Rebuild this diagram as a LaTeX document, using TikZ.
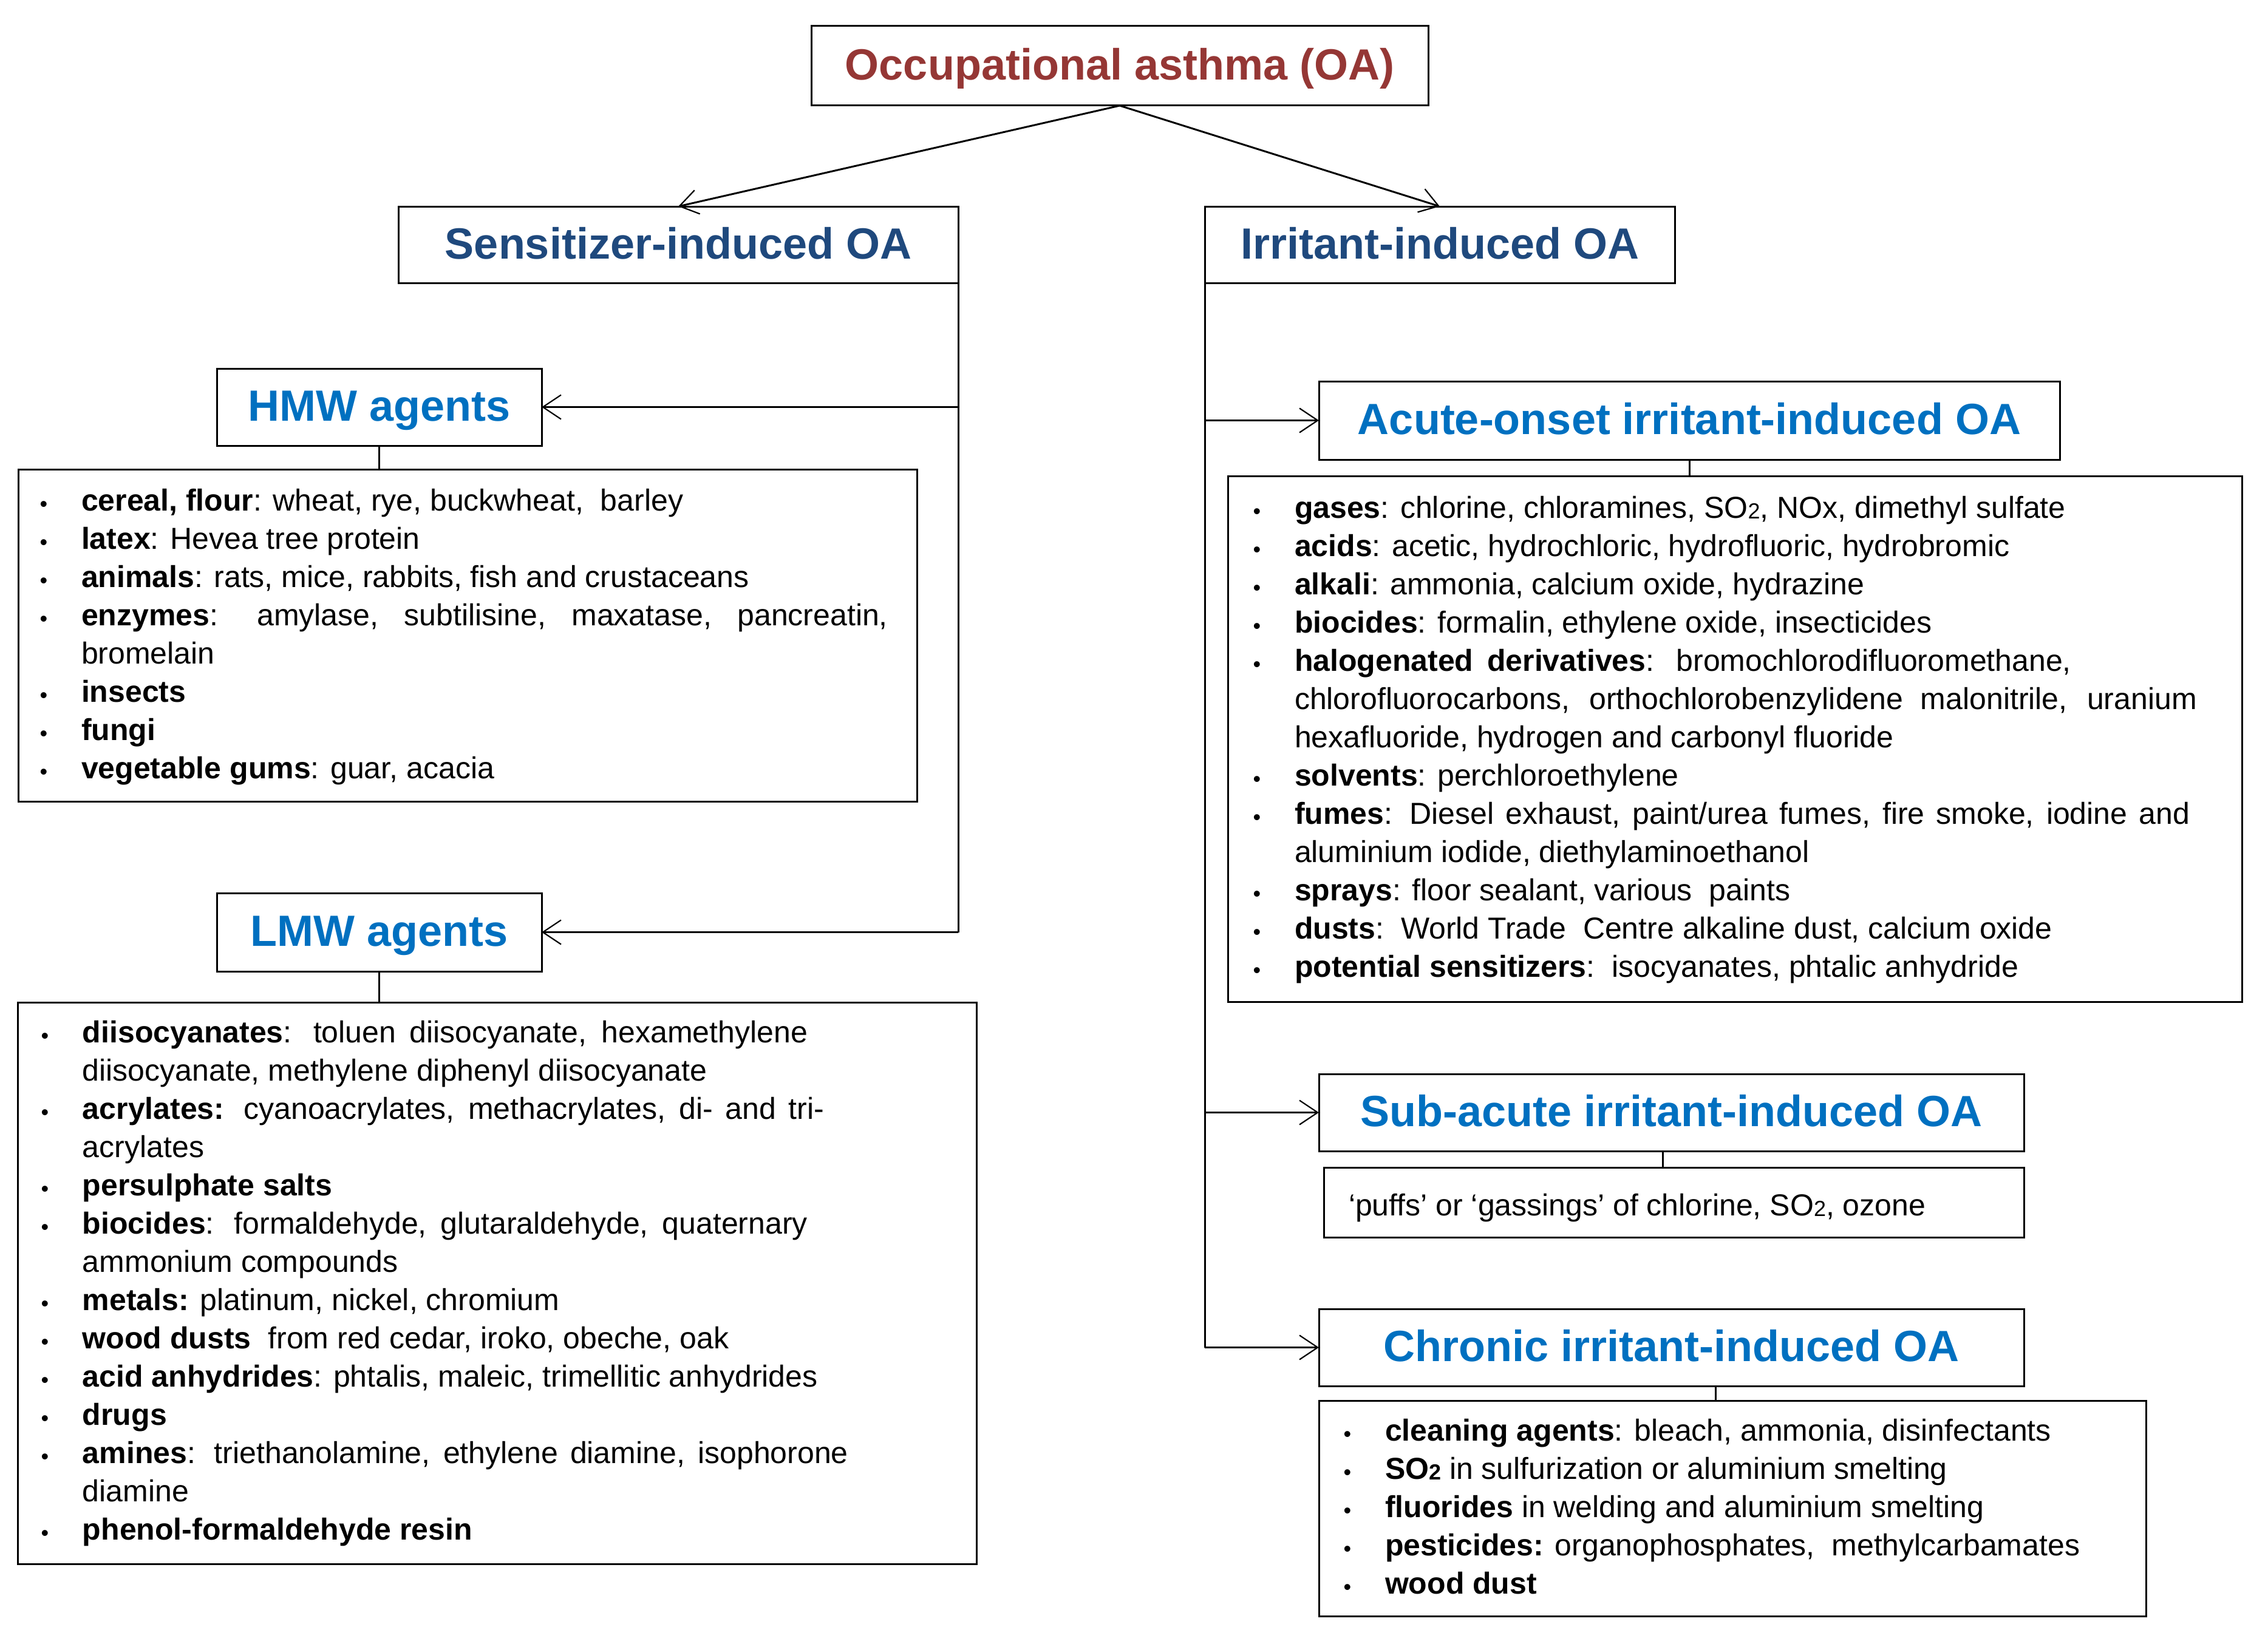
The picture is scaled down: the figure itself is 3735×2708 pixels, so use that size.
\documentclass[tikz,border=0pt]{standalone}
\usepackage{fontspec}
\setmainfont{Liberation Sans}
\usetikzlibrary{arrows.meta,calc}
\definecolor{oared}{HTML}{953735}
\definecolor{darkblue}{HTML}{1F497D}
\definecolor{brightblue}{HTML}{0070C0}
\newcommand\blt{\makebox[0pt][c]{\fontsize{36}{36}\selectfont\raisebox{-1pt}{•}}\hspace*{62pt}}
\newcommand\ind{\hspace*{62pt}}
\newcommand\sotwo{SO\raisebox{-1pt}{\fontsize{36}{36}\selectfont 2}}
\newcommand\jl[2]{\makebox[#1][s]{#2}}
\tikzset{
  title/.style={draw, line width=3pt, inner sep=0pt, outer sep=0pt,
    font=\fontsize{72}{80}\selectfont\bfseries, text height=52pt, text depth=6pt},
  lbox/.style={draw, line width=3pt, inner sep=0pt, outer sep=0pt},
  listtxt/.style={anchor=base west, inner sep=0pt, outer sep=0pt,
    font=\fontsize{50}{63}\selectfont},
  arr/.style={-{Straight Barb[length=30pt,width=40pt,line width=2.2pt]}},
}
\begin{document}
\begin{tikzpicture}[x=1pt, y=-1pt, line width=3pt]
\useasboundingbox (0,0) rectangle (3735,2708);

% title boxes
\node[title, text=oared, minimum width=1016pt, minimum height=131pt] (oa) at (1844,108.5) {Occupational asthma (OA)};
\node[title, text=darkblue, minimum width=922pt, minimum height=126pt] (sens) at (1117,403) {Sensitizer-induced OA};
\node[title, text=darkblue, minimum width=774pt, minimum height=126pt] (irr) at (2371,403) {Irritant-induced OA};
\node[title, text=brightblue, minimum width=535pt, minimum height=127pt] (hmw) at (624.5,670.5) {HMW agents};
\node[title, text=brightblue, minimum width=535pt, minimum height=129pt] (lmw) at (624.5,1535.5) {LMW agents};
\node[title, text=brightblue, minimum width=1220pt, minimum height=129pt] (acute) at (2782,692.5) {Acute-onset irritant-induced OA};
\node[title, text=brightblue, minimum width=1161pt, minimum height=127pt] (sub) at (2752.5,1832.5) {Sub-acute irritant-induced OA};
\node[title, text=brightblue, minimum width=1161pt, minimum height=127pt] (chron) at (2752.5,2219.5) {Chronic irritant-induced OA};

% list boxes
\node[lbox, minimum width=1480pt, minimum height=547pt] (hmwlist) at (770,1046.5) {};
\node[lbox, minimum width=1579pt, minimum height=925pt] (lmwlist) at (818.5,2113.5) {};
\node[lbox, minimum width=1670pt, minimum height=866pt] (acutelist) at (2857,1217) {};
\node[lbox, minimum width=1153pt, minimum height=115pt] (sublist) at (2756.5,1980.5) {};
\node[lbox, minimum width=1362pt, minimum height=355pt] (chronlist) at (2853,2484.5) {};

% list texts
\node[listtxt] (hmwtxt) at (72,841) {\begin{tabular}[t]{@{}l@{}}
\blt\textbf{cereal, flour}: wheat, rye, buckwheat,\ \ barley\\
\blt\textbf{latex}: Hevea tree protein\\
\blt\textbf{animals}: rats, mice, rabbits, fish and crustaceans\\
\blt\jl{1328pt}{\textbf{enzymes}: amylase, subtilisine, maxatase, pancreatin,}\\
\ind bromelain\\
\blt\textbf{insects}\\
\blt\textbf{fungi}\\
\blt\textbf{vegetable gums}: guar, acacia
\end{tabular}};

\node[listtxt] (lmwtxt) at (74,1717) {\begin{tabular}[t]{@{}l@{}}
\blt\jl{1194pt}{\textbf{diisocyanates}: toluen diisocyanate, hexamethylene}\\
\ind diisocyanate, methylene diphenyl diisocyanate\\
\blt\jl{1221pt}{\textbf{acrylates:} cyanoacrylates, methacrylates, di- and tri-}\\
\ind acrylates\\
\blt\textbf{persulphate salts}\\
\blt\jl{1194pt}{\textbf{biocides}: formaldehyde, glutaraldehyde, quaternary}\\
\ind ammonium compounds\\
\blt\textbf{metals:} platinum, nickel, chromium\\
\blt\textbf{wood dusts}\ \ from red cedar, iroko, obeche, oak\\
\blt\textbf{acid anhydrides}: phtalis, maleic, trimellitic anhydrides\\
\blt\textbf{drugs}\\
\blt\jl{1261pt}{\textbf{amines}: triethanolamine, ethylene diamine, isophorone}\\
\ind diamine\\
\blt\textbf{phenol-formaldehyde resin}
\end{tabular}};

\node[listtxt] (acutetxt) at (2070,853) {\begin{tabular}[t]{@{}l@{}}
\blt\textbf{gases}: chlorine, chloramines, \sotwo, NOx, dimethyl sulfate\\
\blt\textbf{acids}: acetic, hydrochloric, hydrofluoric, hydrobromic\\
\blt\textbf{alkali}: ammonia, calcium oxide, hydrazine\\
\blt\textbf{biocides}: formalin, ethylene oxide, insecticides\\
\blt\jl{1279pt}{\textbf{halogenated derivatives}: bromochlorodifluoromethane,}\\
\ind\jl{1486pt}{chlorofluorocarbons, orthochlorobenzylidene malonitrile, uranium}\\
\ind hexafluoride, hydrogen and carbonyl fluoride\\
\blt\textbf{solvents}: perchloroethylene\\
\blt\jl{1474pt}{\textbf{fumes}: Diesel exhaust, paint/urea fumes, fire smoke, iodine and}\\
\ind aluminium iodide, diethylaminoethanol\\
\blt\textbf{sprays}: floor sealant, various\ \ paints\\
\blt\textbf{dusts}:\ \ World Trade\ \ Centre alkaline dust, calcium oxide\\
\blt\textbf{potential sensitizers}:\ \ isocyanates, phtalic anhydride
\end{tabular}};

\node[listtxt] (subtxt) at (2221,2002) {‘puffs’ or ‘gassings’ of chlorine, \sotwo, ozone};

\node[listtxt] (chrontxt) at (2219,2373) {\begin{tabular}[t]{@{}l@{}}
\blt\textbf{cleaning agents}: bleach, ammonia, disinfectants\\
\blt\textbf{\sotwo} in sulfurization or aluminium smelting\\
\blt\textbf{fluorides} in welding and aluminium smelting\\
\blt\textbf{pesticides:} organophosphates,\ \ methylcarbamates\\
\blt\textbf{wood dust}
\end{tabular}};

% connectors
\draw[arr] (oa.south) -- (sens.north);
\draw[arr] (oa.south) -- (irr.north);

\draw (sens.south east) -- (sens.south east |- lmw.east);
\draw[arr] (sens.south east |- hmw.east) -- (hmw.east);
\draw[arr] (sens.south east |- lmw.east) -- (lmw.east);
\draw (hmw.south) -- (hmw.south |- hmwlist.north);
\draw (lmw.south) -- (lmw.south |- lmwlist.north);

\draw (irr.south west) -- (irr.south west |- chron.west);
\draw[arr] (irr.south west |- acute.west) -- (acute.west);
\draw[arr] (irr.south west |- sub.west) -- (sub.west);
\draw[arr] (irr.south west |- chron.west) -- (chron.west);
\draw (acute.south) -- (acute.south |- acutelist.north);
\draw ([xshift=-14pt]sub.south) -- ([xshift=-14pt]sub.south |- sublist.north);
\draw ([xshift=73pt]chron.south) -- ([xshift=73pt]chron.south |- chronlist.north);
\end{tikzpicture}
\end{document}
